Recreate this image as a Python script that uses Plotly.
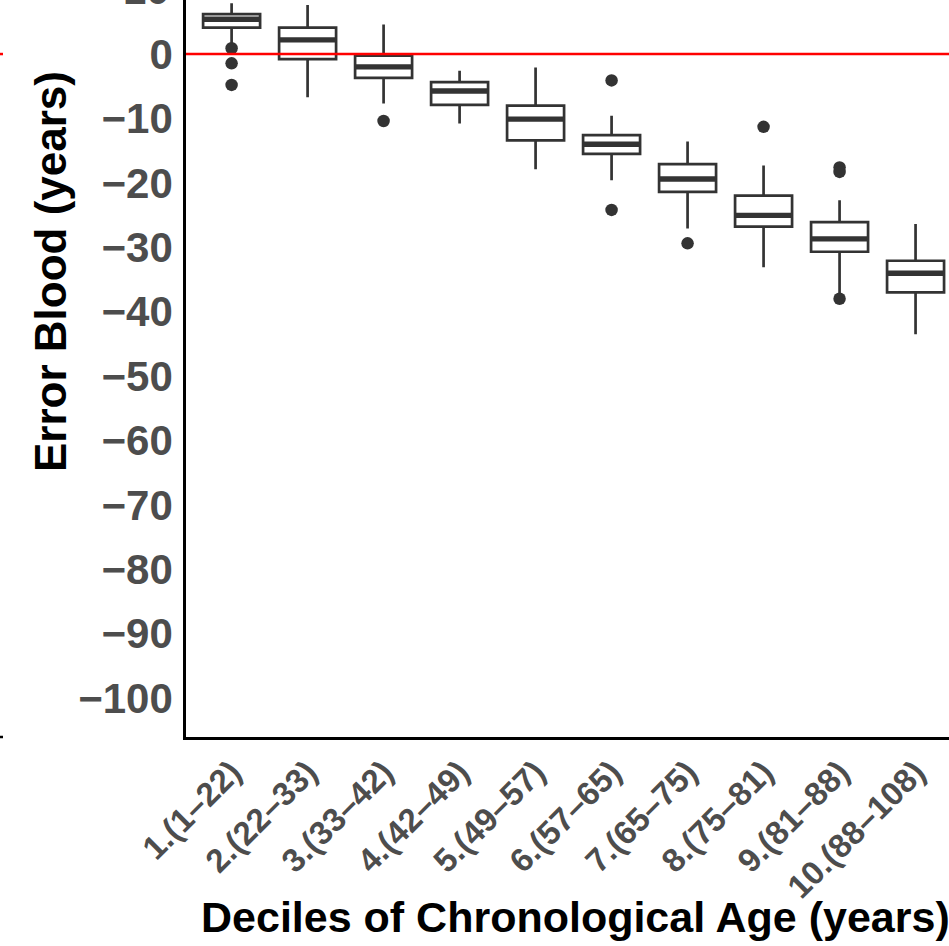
import plotly.graph_objects as go

# Age deciles and the prediction error of the blood clock in each one
deciles = ["1.(1–22)", "2.(22–33)", "3.(33–42)", "4.(42–49)", "5.(49–57)",
           "6.(57–65)", "7.(65–75)", "8.(75–81)", "9.(81–88)", "10.(88–108)"]
lower_whisker = [1.7, -6.7, -7.7, -10.8, -17.9, -19.6, -27.1, -33.1, -37.2, -43.5]
q1 = [4.1, -0.8, -3.7, -7.9, -13.4, -15.5, -21.4, -26.8, -30.7, -37.0]
median = [5.4, 2.2, -2.0, -5.75, -10.1, -14.0, -19.4, -25.05, -28.7, -34.05]
q3 = [6.2, 4.1, -0.26, -4.35, -8.0, -12.6, -17.1, -22.0, -26.1, -32.1]
upper_whisker = [7.9, 7.6, 4.6, -2.6, -2.1, -9.6, -13.6, -17.3, -22.7, -26.4]

outlier_decile = ["1.(1–22)", "1.(1–22)", "1.(1–22)", "3.(33–42)",
                  "6.(57–65)", "6.(57–65)", "7.(65–75)", "8.(75–81)",
                  "9.(81–88)", "9.(81–88)", "9.(81–88)"]
outlier_error = [0.9, -1.45, -4.8, -10.4, -4.1, -24.2, -29.4, -11.3,
                 -17.6, -18.3, -38.0]

y_ticks = [0, -10, -20, -30, -40, -50, -60, -70, -80, -90, -100]
y_tick_text = ["0" if v == 0 else "−" + str(abs(v)) for v in y_ticks]

FONT = "Liberation Sans, Arial, sans-serif"
DARK = "#333333"
GREY_TXT = "#4D4D4D"

W, H = 949, 946
ML, MB = 186, 209
plot_w, plot_h = W - ML, H - MB
y_range = [-106.05, 8.39]
x_range = [-0.6, 9.44]

fig = go.Figure()

# boxes with whiskers (no caps)
fig.add_trace(go.Box(
    x=deciles, q1=q1, median=median, q3=q3,
    lowerfence=lower_whisker, upperfence=upper_whisker,
    boxpoints=False, width=0.75, whiskerwidth=0,
    fillcolor="white", line=dict(color=DARK, width=2.7),
    showlegend=False, hoverinfo="skip",
))

# thicker median bar drawn over each box
fig.add_trace(go.Box(
    x=deciles, q1=median, median=median, q3=median,
    lowerfence=median, upperfence=median,
    boxpoints=False, width=0.75, whiskerwidth=0,
    fillcolor="rgba(0,0,0,0)", line=dict(color=DARK, width=5.4),
    showlegend=False, hoverinfo="skip",
))

# outlying samples
fig.add_trace(go.Scatter(
    x=outlier_decile, y=outlier_error, mode="markers",
    marker=dict(color=DARK, size=12.5, line=dict(width=0)),
    showlegend=False, hoverinfo="skip",
))

# zero-error reference line
fig.add_shape(type="line", xref="paper", x0=0, x1=1, yref="y", y0=0, y1=0,
              line=dict(color="#FF0000", width=2.5), layer="above")

# edges of the neighbouring panel on the left
y0_paper = (0 - y_range[0]) / (y_range[1] - y_range[0])
fig.add_shape(type="line", xref="paper", yref="paper",
              x0=-ML / plot_w, x1=(-ML + 3) / plot_w, y0=y0_paper, y1=y0_paper,
              line=dict(color="#FF0000", width=2.5))
fig.add_shape(type="line", xref="paper", yref="paper",
              x0=-ML / plot_w, x1=(-ML + 3) / plot_w, y0=0, y1=0,
              line=dict(color="black", width=2.5))

# "10" tick label sitting just above the visible area
fig.add_annotation(
    text="10", xref="paper", yref="paper",
    x=(172 - ML) / plot_w,
    y=(10 - y_range[0]) / (y_range[1] - y_range[0]),
    xanchor="right", yanchor="middle", showarrow=False,
    font=dict(family=FONT, size=42, color=GREY_TXT, weight="bold"),
)

# axis titles
fig.add_annotation(
    text="Deciles of Chronological Age (years)", xref="paper", yref="paper",
    x=(575 - ML) / plot_w, y=(plot_h - 917) / plot_h,
    xanchor="center", yanchor="middle", showarrow=False,
    font=dict(family=FONT, size=43, color="black", weight="bold"),
)
fig.add_annotation(
    text="Error Blood (years)", xref="paper", yref="paper",
    x=(50 - ML) / plot_w, y=(plot_h - 272) / plot_h, textangle=-90,
    xanchor="center", yanchor="middle", showarrow=False,
    font=dict(family=FONT, size=44, color="black", weight="bold"),
)

fig.update_layout(
    width=W, height=H,
    margin=dict(l=ML, r=0, t=0, b=MB),
    paper_bgcolor="white", plot_bgcolor="white",
    showlegend=False,
    xaxis=dict(
        type="category", categoryorder="array", categoryarray=deciles,
        range=x_range, showgrid=False, zeroline=False,
        showline=True, linecolor="black", linewidth=2.5,
        ticks="", tickangle=-45, ticklabelstandoff=0,
        tickfont=dict(family=FONT, size=33, color=GREY_TXT, weight="bold"),
    ),
    yaxis=dict(
        range=y_range, tickvals=y_ticks, ticktext=y_tick_text,
        showgrid=False, zeroline=False,
        showline=True, linecolor="black", linewidth=2.5,
        ticks="", ticklabelstandoff=2,
        tickfont=dict(family=FONT, size=42, color=GREY_TXT, weight="bold"),
    ),
)

fig.write_html("out.html")
